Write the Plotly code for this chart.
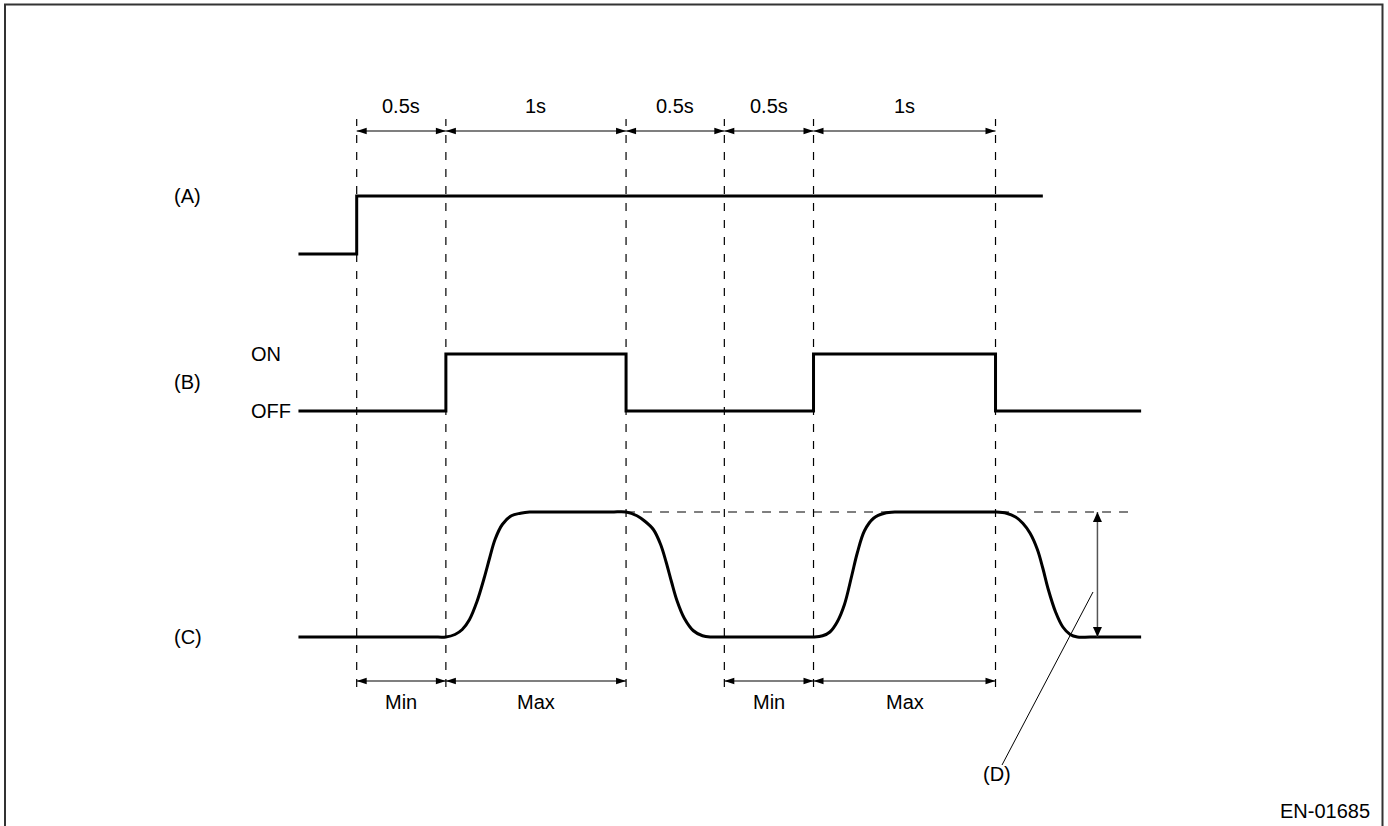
import plotly.graph_objects as go

# ---------------- data ----------------
# time boundaries of the intervals (seconds) – the vertical dashed lines
boundaries_s = [0.0, 0.49, 1.48, 2.02, 2.51, 3.51]
top_labels = ["0.5s", "1s", "0.5s", "0.5s", "1s"]
bottom_spans = [(0, 1), (1, 2), (3, 4), (4, 5)]
bottom_labels = ["Min", "Max", "Min", "Max"]

# signal (A): step (normalised 0 = low, 1 = high)
a_t = [-0.32, 0.0, 3.77]
a_v = [0, 1, 1]

# signal (B): OFF / ON
b_t = [-0.32, 0.49, 1.48, 2.51, 3.51, 4.31]
b_v = [0, 1, 0, 1, 0, 0]

# signal (C): smooth response (normalised)
c_t = [-0.32, 0.00, 0.30, 0.42,
       0.49, 0.54, 0.58, 0.62, 0.66, 0.70, 0.73, 0.76, 0.80, 0.85, 0.90, 0.95,
       1.02, 1.20, 1.40,
       1.48, 1.54, 1.58, 1.63, 1.67, 1.70, 1.73, 1.76, 1.80, 1.85, 1.90, 1.95,
       2.02, 2.20, 2.44,
       2.51, 2.56, 2.60, 2.64, 2.68, 2.72, 2.75, 2.79, 2.84, 2.90, 2.97,
       3.04, 3.25, 3.44,
       3.51, 3.57, 3.62, 3.66, 3.70, 3.74, 3.77, 3.80, 3.84, 3.88, 3.92, 3.96,
       4.03, 4.20, 4.31]
c_v = [0, 0, 0, 0,
       0, 0.02, 0.06, 0.14, 0.28, 0.47, 0.63, 0.78, 0.90, 0.97, 0.99, 1,
       1, 1, 1,
       1, 0.97, 0.93, 0.86, 0.74, 0.60, 0.44, 0.29, 0.15, 0.05, 0.01, 0,
       0, 0, 0,
       0, 0.01, 0.04, 0.12, 0.26, 0.49, 0.67, 0.85, 0.95, 0.99, 1,
       1, 1, 1,
       1, 0.99, 0.96, 0.91, 0.83, 0.70, 0.55, 0.38, 0.20, 0.08, 0.02, 0,
       0, 0, 0]

d_arrow_t = 4.07          # time position of the (D) amplitude arrow
c_ref_end_t = 4.28        # end of the dashed reference line at C high level

# ---------------- layout constants ----------------
W, H = 1388, 826
PX_PER_S = 182.0
X0_PX = 356.7
x_range = [-X0_PX / PX_PER_S, (W - X0_PX) / PX_PER_S]
y_range = [0, H]            # vertical units = pixels from bottom

ROW_A = (572, 58)   # (baseline, amplitude)
ROW_B = (415, 57)
ROW_C = (189, 125)

def row_y(vals, row):
    base, amp = row
    return [base + amp * v for v in vals]

FONT = dict(family="Liberation Sans, Arial, sans-serif", size=20, color="black")
LINE_W = 3

fig = go.Figure()
for t, v, row, shape in [(a_t, a_v, ROW_A, "hv"), (b_t, b_v, ROW_B, "hv"),
                         (c_t, c_v, ROW_C, "spline")]:
    fig.add_trace(go.Scatter(
        x=t, y=row_y(v, row), mode="lines",
        line=dict(color="black", width=LINE_W, shape=shape, smoothing=1.0),
        hoverinfo="skip", showlegend=False))

shapes = []
annotations = []

# vertical dashed guide lines
DASH_Y0, DASH_Y1 = 139, 707
for b in boundaries_s:
    shapes.append(dict(type="line", xref="x", yref="y", x0=b, x1=b, y0=DASH_Y0, y1=DASH_Y1,
                       line=dict(color="black", width=1.2, dash="8px,9px"), layer="below"))

# dashed reference at C high level
c_high = ROW_C[0] + ROW_C[1]
shapes.append(dict(type="line", xref="x", yref="y", x0=boundaries_s[2], x1=c_ref_end_t,
                   y0=c_high, y1=c_high,
                   line=dict(color="black", width=1.2, dash="9px,8px"), layer="below"))

HEAD_L = 10.0   # px
HEAD_W = 3.2    # px half width

def head(xt, yt, direction, hl=HEAD_L, hw=HEAD_W):
    dx = hl / PX_PER_S
    if direction == "right":
        p = f"M{xt},{yt} L{xt-dx},{yt+hw} L{xt-dx},{yt-hw} Z"
    elif direction == "left":
        p = f"M{xt},{yt} L{xt+dx},{yt+hw} L{xt+dx},{yt-hw} Z"
    elif direction == "up":
        wx = hw / PX_PER_S
        p = f"M{xt},{yt} L{xt-wx},{yt-hl} L{xt+wx},{yt-hl} Z"
    else:
        wx = hw / PX_PER_S
        p = f"M{xt},{yt} L{xt-wx},{yt+hl} L{xt+wx},{yt+hl} Z"
    return dict(type="path", xref="x", yref="y", path=p, fillcolor="black",
                line=dict(width=0), layer="above")

def h_arrow(xa, xb, y):
    shapes.append(dict(type="line", xref="x", yref="y", x0=xa, x1=xb, y0=y, y1=y,
                       line=dict(color="black", width=1.2)))
    shapes.append(head(xa, y, "left"))
    shapes.append(head(xb, y, "right"))

TOP_ARROW_Y, TOP_LABEL_Y = 695, 720
BOT_ARROW_Y, BOT_LABEL_Y = 145, 124

for i, lab in enumerate(top_labels):
    xa, xb = boundaries_s[i], boundaries_s[i + 1]
    h_arrow(xa, xb, TOP_ARROW_Y)
    annotations.append(dict(x=(xa + xb) / 2, y=TOP_LABEL_Y, text=lab, showarrow=False,
                            xref="x", yref="y", font=FONT))

for (i, j), lab in zip(bottom_spans, bottom_labels):
    xa, xb = boundaries_s[i], boundaries_s[j]
    h_arrow(xa, xb, BOT_ARROW_Y)
    annotations.append(dict(x=(xa + xb) / 2, y=BOT_LABEL_Y, text=lab, showarrow=False,
                            xref="x", yref="y", font=FONT))

# (D) amplitude arrow
c_low = ROW_C[0]
shapes.append(dict(type="line", xref="x", yref="y", x0=d_arrow_t, x1=d_arrow_t,
                   y0=c_low, y1=c_high, line=dict(color="#555555", width=1.5)))
shapes.append(head(d_arrow_t, c_high, "up", hl=10, hw=4.5))
shapes.append(head(d_arrow_t, c_low, "down", hl=10, hw=4.5))

# leader line for (D)
shapes.append(dict(type="line", xref="x", yref="y",
                   x0=(1093 - X0_PX) / PX_PER_S, y0=H - 592,
                   x1=(1002 - X0_PX) / PX_PER_S, y1=H - 765,
                   line=dict(color="black", width=1)))
annotations.append(dict(x=(997 - X0_PX) / PX_PER_S, y=H - 774, text="(D)", showarrow=False,
                        xref="x", yref="y", font=FONT))

# row labels
LBL_X = (187.5 - X0_PX) / PX_PER_S
annotations.append(dict(x=LBL_X, y=ROW_A[0] + ROW_A[1], text="(A)", showarrow=False,
                        xref="x", yref="y", font=FONT))
annotations.append(dict(x=LBL_X, y=H - 382, text="(B)", showarrow=False,
                        xref="x", yref="y", font=FONT))
annotations.append(dict(x=LBL_X, y=ROW_C[0], text="(C)", showarrow=False,
                        xref="x", yref="y", font=FONT))
ONOFF_X = (249 - X0_PX) / PX_PER_S
annotations.append(dict(x=ONOFF_X, y=ROW_B[0] + ROW_B[1], text="ON", showarrow=False,
                        xanchor="left", xref="x", yref="y", font=FONT))
annotations.append(dict(x=ONOFF_X, y=ROW_B[0], text="OFF", showarrow=False,
                        xanchor="left", xref="x", yref="y", font=FONT))

# figure id
annotations.append(dict(x=1372 / W, y=1 - 811 / H, text="EN-01685", showarrow=False,
                        xanchor="right", yanchor="middle", xref="paper", yref="paper",
                        font=FONT))

# frame
shapes.append(dict(type="rect", xref="paper", yref="paper",
                   x0=5 / W, x1=1382.5 / W, y0=-0.05, y1=1 - 4.5 / H,
                   line=dict(color="#333333", width=2), fillcolor="rgba(0,0,0,0)",
                   layer="above"))

fig.update_layout(
    width=W, height=H,
    margin=dict(l=0, r=0, t=0, b=0),
    paper_bgcolor="white", plot_bgcolor="white",
    xaxis=dict(range=x_range, visible=False, fixedrange=True),
    yaxis=dict(range=y_range, visible=False, fixedrange=True),
    shapes=shapes, annotations=annotations,
    showlegend=False,
)

fig.write_html("out.html", config={"displayModeBar": False},
               post_script="document.body.style.margin='0';"
                           "document.body.style.overflow='hidden';")
